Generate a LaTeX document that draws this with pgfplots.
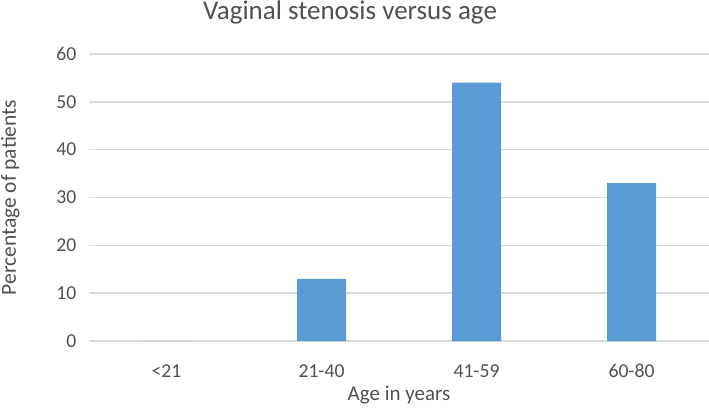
\documentclass[border=0pt]{standalone}
\usepackage{pgfplots}
\pgfplotsset{compat=1.18}
\usepackage{fontspec}
\setmainfont{Carlito}
\definecolor{barblue}{HTML}{5B9BD5}
\definecolor{gridgray}{HTML}{D9D9D9}
\definecolor{textgray}{HTML}{505050}
\begin{document}
\begin{tikzpicture}
\useasboundingbox (0,0) rectangle (709pt,407pt);
\begin{axis}[
  at={(89pt,66pt)}, anchor=south west,
  scale only axis, width=620pt, height=287pt,
  xmin=-0.5, xmax=3.5, ymin=0, ymax=60,
  ytick={0,10,...,60},
  xtick={0,1,2,3},
  xticklabels={<21,21-40,41-59,60-80},
  axis line style={draw=none},
  major tick length=0pt,
  ymajorgrids, grid style={gridgray, line width=1.4pt},
  /pgf/number format/assume math mode=true,
  tick label style={font=\fontsize{19.7}{22}\selectfont, text=textgray},
  xticklabel style={yshift=-20pt},
  yticklabel style={xshift=-9pt},
  xlabel={Age in years},
  ylabel={Percentage of patients},
  xlabel style={at={(axis description cs:0.5,-0.19)}, anchor=center, font=\fontsize{21}{24}\selectfont, text=textgray},
  ylabel style={at={(axis description cs:-0.127,0.5)}, anchor=center, rotate=0, font=\fontsize{21.5}{24}\selectfont, text=textgray},
]
\addplot[ybar, bar width=49pt, fill=barblue, draw=none] coordinates {(0,0) (1,13) (2,54) (3,33)};
\end{axis}
\node[anchor=base, inner sep=0pt, font=\fontsize{27}{32}\selectfont, text=textgray] at (350pt,387pt) {Vaginal stenosis versus age};
\end{tikzpicture}
\end{document}
